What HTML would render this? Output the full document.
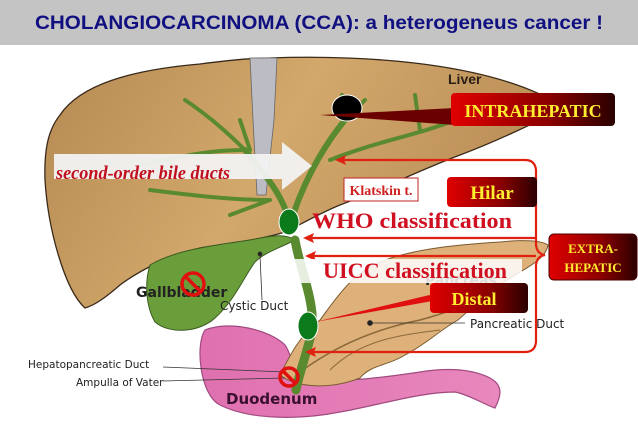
<!DOCTYPE html>
<html><head><meta charset="utf-8"><style>
html,body{margin:0;padding:0;background:#fff;}
svg{display:block}
</style></head><body>
<svg width="638" height="426" viewBox="0 0 638 426" xmlns="http://www.w3.org/2000/svg">
<defs>
<linearGradient id="liv" x1="0" y1="0" x2="1" y2="0.3">
<stop offset="0" stop-color="#b58a52"/><stop offset="0.5" stop-color="#d3a86c"/><stop offset="1" stop-color="#b88c55"/>
</linearGradient>
<linearGradient id="box" x1="0" y1="0" x2="1" y2="0">
<stop offset="0" stop-color="#e00000"/><stop offset="0.6" stop-color="#8a0000"/><stop offset="1" stop-color="#2a0000"/>
</linearGradient>
<linearGradient id="pink" x1="0" y1="0" x2="1" y2="0">
<stop offset="0" stop-color="#e070b0"/><stop offset="1" stop-color="#e888bd"/>
</linearGradient>
</defs>
<rect x="0" y="0" width="638" height="45" fill="#c4c4c4"/>
<text x="35" y="29" textLength="568" lengthAdjust="spacingAndGlyphs" font-family="Liberation Sans, sans-serif" font-weight="bold" font-size="19" fill="#101080">CHOLANGIOCARCINOMA (CCA): a heterogeneus cancer !</text>

<!-- duodenum -->
<path d="M205,330 C230,320 270,330 285,345 C292,355 292,368 300,375 C330,385 380,378 420,372 C445,368 470,368 490,378 C505,386 500,398 495,408 C485,405 470,395 455,392 C420,392 380,405 340,412 C300,420 250,420 220,405 C200,395 195,345 205,330 Z" fill="url(#pink)" stroke="#a04a80" stroke-width="1.2"/>
<!-- pancreas -->
<path d="M280,375 C290,355 300,335 320,320 C335,300 350,275 380,262 C410,250 450,245 500,242 C520,240 540,240 548,245 C545,262 520,270 500,285 C480,298 470,310 458,320 C440,330 425,345 405,355 C390,365 370,365 360,378 C335,388 300,390 280,375 Z" fill="#deb07a" stroke="#7a5a30" stroke-width="1"/>
<path d="M300,372 C330,350 370,330 420,320 C450,312 480,300 510,285" fill="none" stroke="#8a6a3a" stroke-width="1.5"/>
<path d="M330,370 C360,340 400,335 440,330" fill="none" stroke="#8a6a3a" stroke-width="1"/>

<!-- liver -->
<path d="M60,115 C80,85 130,70 200,64 C230,60 250,58 270,58 C320,56 380,58 430,65 C480,72 530,85 565,108 C540,120 500,140 460,155 C420,170 380,190 340,205 C320,213 300,225 285,232 C260,240 230,243 200,248 C170,255 140,270 120,285 C105,298 95,305 85,308 C65,290 48,230 45,180 C44,150 48,130 60,115 Z" fill="url(#liv)" stroke="#3a2a1a" stroke-width="1.3"/>
<path d="M250,58 L277,58 L274,120 L266,195 L257,195 L253,120 Z" fill="#bcbcc4" stroke="#666" stroke-width="0.8"/>
<text x="448" y="84" font-family="Liberation Sans, sans-serif" font-weight="bold" font-size="14" fill="#2a2018">Liver</text>

<!-- gallbladder -->
<path d="M150,265 C175,250 215,245 250,240 C270,236 285,233 295,240 C280,248 265,252 255,262 C245,275 235,300 215,318 C200,332 170,335 155,322 C145,305 145,280 150,265 Z" fill="#6a9e3a" stroke="#3a5a20" stroke-width="1"/>
<!-- bile ducts -->
<g fill="none" stroke="#5a8a30" stroke-linecap="round">
<path d="M295,240 C300,270 315,300 312,330 C308,350 300,370 296,390" stroke-width="9"/>
<path d="M290,225 C285,200 270,180 245,150 M290,225 C300,190 320,150 345,120" stroke-width="6"/>
<path d="M345,120 L342,95 M345,120 L365,100 M330,160 C380,140 420,135 460,118 M420,130 L415,95 M245,150 C220,125 200,110 185,100 M245,150 C200,150 170,160 140,165 M270,200 C230,200 190,195 150,190 M270,200 L230,215 M250,150 L240,120" stroke-width="4"/>
</g>
<ellipse cx="347" cy="108" rx="15" ry="13" fill="#000" stroke="#fff" stroke-width="1"/>
<ellipse cx="289" cy="222" rx="10" ry="13" fill="#0a7a1a" stroke="#fff" stroke-width="1"/>
<ellipse cx="308" cy="326" rx="10" ry="14" fill="#0a7a1a" stroke="#fff" stroke-width="1"/>

<!-- labels anatomy -->
<g font-family="DejaVu Sans, sans-serif" fill="#222">
<text x="136" y="297" font-size="14" font-weight="bold">Gallbladder</text>
<text x="220" y="310" font-size="12">Cystic Duct</text>
<text x="470" y="328" font-size="12">Pancreatic Duct</text>
<text x="425" y="285" font-size="14" font-weight="bold">Pancreas</text>
<text x="28" y="368" font-size="10.5">Hepatopancreatic Duct</text>
<text x="76" y="386" font-size="10.5">Ampulla of Vater</text>
<text x="226" y="404" font-size="15" font-weight="bold" fill="#3a1030">Duodenum</text>
</g>
<g stroke="#333" stroke-width="0.8" fill="none">
<path d="M260,255 L262,300"/><circle cx="260" cy="254" r="2" fill="#222"/>
<path d="M370,323 L465,323"/><circle cx="370" cy="323" r="2.5" fill="#222"/>
<path d="M163,367 L285,372 M163,381 L285,378"/>
</g>
<!-- no signs -->
<g fill="none" stroke="#e01010" stroke-width="3.5">
<circle cx="193" cy="284" r="11"/><path d="M185,276 L201,292"/>
<circle cx="289" cy="377" r="9"/><path d="M283,371 L295,383"/>
</g>

<!-- white arrow -->
<path d="M54,154 L282,154 L282,142 L312,166 L282,190 L282,179 L54,179 Z" fill="#f2f2f2" opacity="0.95"/>
<text x="56" y="179" textLength="174" lengthAdjust="spacingAndGlyphs" font-family="Liberation Serif, serif" font-style="italic" font-weight="bold" font-size="19" fill="#c01020">second-order bile ducts</text>

<!-- red connectors -->
<g stroke="#e02010" stroke-width="2.2" fill="none">
<path d="M340,160 L525,160 Q535,160 536,170 L536,245 Q537,254 545,255 Q537,256 536,265 L536,342 Q535,352 525,352 L310,352"/>
<path d="M308,238 L536,238 M308,256 L536,256"/>
</g>
<g fill="#e02010">
<path d="M335,160 L346,155 L344,160 L346,165 Z"/>
<path d="M303,238 L314,233 L312,238 L314,243 Z"/>
<path d="M305,256 L316,251 L314,256 L316,261 Z"/>
<path d="M305,352 L316,347 L314,352 L316,357 Z"/>
</g>
<rect x="290" y="259" width="232" height="24" fill="#fff" opacity="0.85"/>
<text x="312" y="228" textLength="200" lengthAdjust="spacingAndGlyphs" font-family="Liberation Serif, serif" font-weight="bold" font-size="22" fill="#d01020">WHO classification</text>
<text x="323" y="278" textLength="184" lengthAdjust="spacingAndGlyphs" font-family="Liberation Serif, serif" font-weight="bold" font-size="22" fill="#d01020">UICC classification</text>

<!-- boxes -->
<path d="M320,115 L455,108 L455,125 Z" fill="#6a0000"/>
<rect x="451" y="93" width="164" height="33" rx="4" fill="url(#box)"/>
<text x="533" y="117" text-anchor="middle" font-family="Liberation Serif, serif" font-weight="bold" font-size="18" fill="#ffee30">INTRAHEPATIC</text>

<rect x="344" y="178" width="74" height="23" fill="#fff" stroke="#c02020" stroke-width="1"/>
<text x="381" y="195" text-anchor="middle" font-family="Liberation Serif, serif" font-weight="bold" font-size="14" fill="#d02020">Klatskin t.</text>
<rect x="447" y="177" width="90" height="30" rx="4" fill="url(#box)"/>
<text x="492" y="199" text-anchor="middle" font-family="Liberation Serif, serif" font-weight="bold" font-size="19" fill="#ffee30">Hilar</text>

<path d="M315,322 L438,293 L438,300 Z" fill="#e01010"/>
<rect x="430" y="283" width="98" height="30" rx="4" fill="url(#box)"/>
<text x="474" y="305" text-anchor="middle" font-family="Liberation Serif, serif" font-weight="bold" font-size="18" fill="#ffee30">Distal</text>

<rect x="549" y="234" width="88" height="46" rx="5" fill="url(#box)" stroke="#4a0000"/>
<text x="593" y="253" text-anchor="middle" font-family="Liberation Serif, serif" font-weight="bold" font-size="13" fill="#ffee30">EXTRA-</text>
<text x="593" y="272" text-anchor="middle" font-family="Liberation Serif, serif" font-weight="bold" font-size="13" fill="#ffee30">HEPATIC</text>
</svg>
</body></html>
